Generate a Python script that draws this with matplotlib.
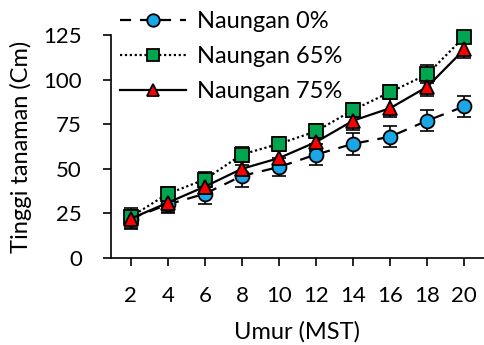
import matplotlib
matplotlib.use("Agg")
import matplotlib.pyplot as plt

plt.rcParams['font.family'] = ['Lato', 'DejaVu Sans']

umur = [2, 4, 6, 8, 10, 12, 14, 16, 18, 20]
n0 = [22, 30, 36, 46, 51, 58, 64, 68, 77, 85]
n0_err = [6, 5, 6, 6, 5, 6, 6, 6, 6, 6]
n65 = [23, 36, 44, 58, 64, 71, 83, 93, 103, 124]
n65_err = [4, 4, 4, 4, 4, 4, 4, 4, 5, 3]
n75 = [22, 31, 40, 50, 56, 65, 77, 84, 96, 117]
n75_err = [5, 5, 4, 5, 5, 5, 5, 5, 5, 5]
labels = ['Naungan 0%', 'Naungan 65%', 'Naungan 75%']
yticks = [0, 25, 50, 75, 100, 125]

fig = plt.figure(figsize=(4.84, 3.45), dpi=100)
ax = fig.add_axes([111/484, 87/345, (484-111)/484, (258-35)/345])

series = [
    (n0, n0_err, (0, (5, 4)), 'o', '#1aa7e8', 10),
    (n65, n65_err, (0, (1, 1.2)), 's', '#00a550', 9.5),
    (n75, n75_err, '-', '^', '#ff0000', 9.5),
]
handles = []
for (vals, err, ls, mk, col, ms), lab in zip(series, labels):
    ax.errorbar(umur, vals, yerr=err, fmt='none', ecolor='black',
                elinewidth=1.2, capsize=5, capthick=1.2, zorder=2, clip_on=False)
    h, = ax.plot(umur, vals, linestyle=ls, color='black', linewidth=1.6,
                 marker=mk, markersize=ms, markerfacecolor=col,
                 markeredgecolor='black', markeredgewidth=1.3,
                 label=lab, zorder=3, clip_on=False)
    handles.append(h)

ax.set_xlim(0.94, 21.06)
ax.set_ylim(0, 125)
ax.set_xticks(umur)
ax.set_yticks(yticks)
ax.spines['top'].set_visible(False)
ax.spines['right'].set_visible(False)
for s in ['left', 'bottom']:
    ax.spines[s].set_linewidth(1.2)
ax.tick_params(axis='both', direction='out', length=6, width=1.2,
               labelsize=16, colors='black')
ax.tick_params(axis='x', pad=14)
ax.tick_params(axis='y', pad=15)
ax.set_xlabel('Umur (MST)', fontsize=17, labelpad=11)
ax.set_ylabel('Tinggi tanaman (Cm)', fontsize=17, labelpad=8)

leg = fig.legend(handles=handles, loc='upper left',
                 bbox_to_anchor=(120/484, 1 - 11/345),
                 frameon=False, fontsize=17, handlelength=2.8,
                 handletextpad=0.45, labelspacing=0.6, borderaxespad=0,
                 borderpad=0, markerscale=0.9)

fig.savefig('out.png', dpi=100)
